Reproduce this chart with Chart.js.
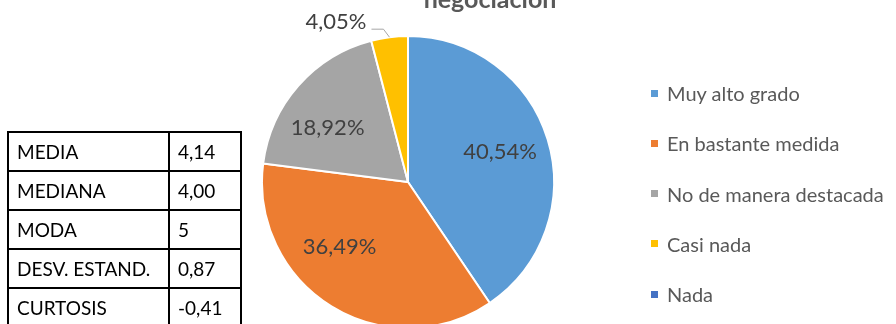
<!DOCTYPE html>
<html lang="es">
<head>
    <meta charset="UTF-8">
    <title>Grado de negociación</title>
    <script src="https://cdn.jsdelivr.net/npm/chart.js"></script>
    <style>
        html, body { margin: 0; padding: 0; background: #fff; overflow: hidden; }
        body { width: 896px; height: 324px; position: relative; font-family: Lato, "Open Sans", sans-serif; }
        #chartBox { position: absolute; left: 0; top: 0; width: 896px; height: 324px; }
        .chart-title {
            position: absolute; left: 390px; top: -14px; width: 200px;
            text-align: center; font: bold 25px/1 Lato, sans-serif; color: #595959;
        }
        .stats {
            position: absolute; left: 7px; top: 131px;
            border-collapse: collapse; font-size: 19px; color: #000;
        }
        .stats td { border: 2px solid #000; height: 37px; padding: 0 8px; line-height: 20px; }
        .stats td:first-child { width: 143px; }
        .stats td:last-child { width: 54px; }
        .legend { position: absolute; left: 651px; top: 68px; margin: 0; padding: 0; list-style: none; }
        .legend li {
            height: 50.25px; display: flex; align-items: center;
            font-size: 20px; color: #595959; white-space: nowrap;
        }
        .legend .swatch { width: 7px; height: 7px; margin-right: 9px; flex: none; }
    </style>
</head>
<body>
    <div id="chartBox"><canvas id="pieChart"></canvas></div>
    <div class="chart-title">negociación</div>
    <table class="stats" id="statsTable"></table>
    <ul class="legend" id="legendList"></ul>

    <script>
        // Answer categories and their share of responses (%)
        const categories = ['Muy alto grado', 'En bastante medida', 'No de manera destacada', 'Casi nada', 'Nada'];
        const shares = [40.54, 36.49, 18.92, 4.05, 0];
        const sliceColors = ['#5B9BD5', '#ED7D31', '#A5A5A5', '#FFC000', '#4472C4'];

        // Summary statistics shown beside the pie
        const statNames = ['MEDIA', 'MEDIANA', 'MODA', 'DESV. ESTAND.', 'CURTOSIS'];
        const statValues = ['4,14', '4,00', '5', '0,87', '-0,41'];

        const fmtPct = v => v.toFixed(2).replace('.', ',') + '%';

        // Percentage labels: inside the slice, or outside with a leader line for small slices
        const sliceLabels = {
            id: 'sliceLabels',
            afterDatasetsDraw(chart, args, opts) {
                const ctx = chart.ctx;
                const meta = chart.getDatasetMeta(0);
                ctx.save();
                ctx.font = '22px Lato, sans-serif';
                ctx.fillStyle = '#404040';
                ctx.textBaseline = 'middle';
                meta.data.forEach((arc, i) => {
                    const v = shares[i];
                    if (!v) return;
                    const p = arc.getProps(['x', 'y', 'startAngle', 'endAngle', 'outerRadius'], true);
                    const mid = (p.startAngle + p.endAngle) / 2;
                    const cos = Math.cos(mid), sin = Math.sin(mid);
                    if (v < opts.outsideBelow) {
                        const x0 = p.x + p.outerRadius * cos;
                        const y0 = p.y + p.outerRadius * sin;
                        const x1 = x0 - 6, y1 = y0 - 8;
                        const x2 = x1 - 12;
                        ctx.strokeStyle = '#A6A6A6';
                        ctx.lineWidth = 1;
                        ctx.beginPath();
                        ctx.moveTo(x0, y0);
                        ctx.lineTo(x1, y1);
                        ctx.lineTo(x2, y1);
                        ctx.stroke();
                        ctx.textAlign = 'right';
                        ctx.fillText(fmtPct(v), x2 - 5, y1 - 7);
                    } else {
                        const shift = opts.shift[i] || [0, 0];
                        const r = p.outerRadius * 0.66;
                        ctx.textAlign = 'center';
                        ctx.fillText(fmtPct(v), p.x + r * cos + shift[0], p.y + r * sin + shift[1]);
                    }
                });
                ctx.restore();
            }
        };

        new Chart(document.getElementById('pieChart'), {
            type: 'pie',
            data: {
                labels: categories,
                datasets: [{
                    data: shares,
                    backgroundColor: sliceColors,
                    borderColor: '#ffffff',
                    borderWidth: 2,
                    radius: 146
                }]
            },
            options: {
                responsive: true,
                maintainAspectRatio: false,
                animation: false,
                events: [],
                layout: { padding: { left: 0, right: 80, top: 40, bottom: 0 } },
                plugins: {
                    legend: { display: false },
                    tooltip: { enabled: false },
                    sliceLabels: { outsideBelow: 10, shift: [[0, -2], [-18, -17], [-8, 10]] }
                }
            },
            plugins: [sliceLabels]
        });

        // Stats table
        const table = document.getElementById('statsTable');
        statNames.forEach((name, i) => {
            const tr = document.createElement('tr');
            tr.innerHTML = `<td>${name}</td><td>${statValues[i]}</td>`;
            table.appendChild(tr);
        });

        // Legend list
        const legend = document.getElementById('legendList');
        categories.forEach((name, i) => {
            const li = document.createElement('li');
            li.innerHTML = `<span class="swatch" style="background:${sliceColors[i]}"></span>${name}`;
            legend.appendChild(li);
        });
    </script>
</body>
</html>
